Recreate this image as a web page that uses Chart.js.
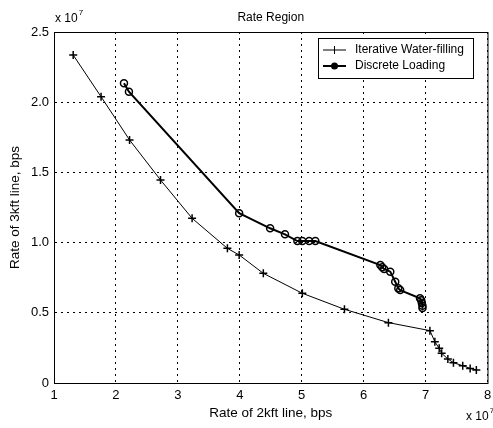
<!DOCTYPE html>
<html>
<head>
<meta charset="utf-8">
<script src="https://cdn.jsdelivr.net/npm/chart.js@4/dist/chart.umd.min.js"></script>
<style>
    body { margin: 0; background: #fff; }
    #wrap { width: 493px; height: 428px; }
</style>
</head>
<body>
<div id="wrap"><canvas id="rateChart" width="493" height="428"></canvas></div>
<script>
// rates in units of 1e7 bps
const iterX = [1.31, 1.76, 2.22, 2.72, 3.23, 3.80, 3.99, 4.38, 5.01, 5.69, 6.40, 7.07, 7.15, 7.22, 7.26, 7.36, 7.45, 7.60, 7.72, 7.82];
const iterY = [2.336, 2.039, 1.731, 1.446, 1.173, 0.959, 0.912, 0.781, 0.639, 0.525, 0.430, 0.373, 0.294, 0.247, 0.212, 0.171, 0.145, 0.123, 0.104, 0.093];

const discX = [2.13, 2.21, 3.99, 4.49, 4.73, 4.93, 5.01, 5.12, 5.22, 6.27, 6.30, 6.33, 6.43, 6.51, 6.56, 6.59, 6.91, 6.93, 6.94, 6.95, 6.95];
const discY = [2.135, 2.075, 1.209, 1.102, 1.059, 1.011, 1.011, 1.011, 1.011, 0.840, 0.825, 0.812, 0.793, 0.721, 0.674, 0.662, 0.603, 0.590, 0.570, 0.550, 0.535];

const xTicks = [1, 2, 3, 4, 5, 6, 7, 8];
const yTicks = [0, 0.5, 1, 1.5, 2, 2.5];
const seriesNames = ['Iterative Water-filling', 'Discrete Loading'];

function toPoints(xs, ys) {
    return xs.map((x, i) => ({x: x, y: ys[i]}));
}

const FONT = '"Liberation Sans", Arial, sans-serif';

// frame, title, exponent labels, axis titles and legend
const decorPlugin = {
    id: 'decor',
    afterDraw(chart) {
        const ctx = chart.ctx;
        const a = chart.chartArea;
        ctx.save();
        ctx.strokeStyle = '#000';
        ctx.lineWidth = 1;
        ctx.strokeRect(a.left + 0.5, a.top + 0.5, a.right - a.left, a.bottom - a.top);

        ctx.fillStyle = '#000';
        ctx.textAlign = 'center';
        ctx.textBaseline = 'middle';
        ctx.font = '12px ' + FONT;
        ctx.fillText('Rate Region', (a.left + a.right) / 2, 18);
        ctx.font = '13.5px ' + FONT;
        ctx.fillText('Rate of 2kft line, bps', (a.left + a.right) / 2, 413);

        ctx.save();
        ctx.translate(15, (a.top + a.bottom) / 2);
        ctx.rotate(-Math.PI / 2);
        ctx.fillText('Rate of 3kft line, bps', 0, 0);
        ctx.restore();

        // x 10^7 labels
        function expLabel(x, y) {
            ctx.textAlign = 'left';
            ctx.font = '12px ' + FONT;
            ctx.fillText('x 10', x, y);
            const w = ctx.measureText('x 10').width;
            ctx.font = '8px ' + FONT;
            ctx.fillText('7', x + w + 1, y - 6);
        }
        expLabel(55, 19);
        expLabel(466, 417);

        // legend box
        const lx = 318, ly = 38, lw = 155, lh = 40;
        ctx.fillStyle = '#fff';
        ctx.fillRect(lx, ly, lw, lh);
        ctx.strokeStyle = '#000';
        ctx.lineWidth = 1;
        ctx.strokeRect(lx + 0.5, ly + 0.5, lw, lh);
        ctx.fillStyle = '#000';
        ctx.font = '12px ' + FONT;
        ctx.textAlign = 'left';
        const rows = [ly + 12, ly + 28];
        // row 1: thin line with plus
        ctx.beginPath();
        ctx.lineWidth = 1;
        ctx.moveTo(lx + 5, rows[0]); ctx.lineTo(lx + 28, rows[0]);
        ctx.moveTo(lx + 16.5, rows[0] - 4); ctx.lineTo(lx + 16.5, rows[0] + 4);
        ctx.stroke();
        ctx.fillText(seriesNames[0], lx + 37, rows[0]);
        // row 2: thick line with circle
        ctx.beginPath();
        ctx.lineWidth = 2;
        ctx.moveTo(lx + 5, rows[1]); ctx.lineTo(lx + 28, rows[1]);
        ctx.stroke();
        ctx.beginPath();
        ctx.arc(lx + 16.5, rows[1], 3.5, 0, Math.PI * 2);
        ctx.fillStyle = '#000';
        ctx.fill();
        ctx.fillText(seriesNames[1], lx + 37, rows[1]);
        ctx.restore();
    }
};

new Chart(document.getElementById('rateChart'), {
    type: 'line',
    data: {
        datasets: [
            {
                label: seriesNames[0],
                data: toPoints(iterX, iterY),
                borderColor: '#000',
                borderWidth: 1,
                pointStyle: 'cross',
                pointRadius: 4,
                pointBorderWidth: 1.5,
                pointBorderColor: '#000',
                tension: 0
            },
            {
                label: seriesNames[1],
                data: toPoints(discX, discY),
                borderColor: '#000',
                borderWidth: 2,
                pointStyle: 'circle',
                pointRadius: 3.5,
                pointBorderWidth: 1.5,
                pointBorderColor: '#000',
                pointBackgroundColor: 'rgba(255,255,255,0)',
                tension: 0
            }
        ]
    },
    options: {
        responsive: false,
        animation: false,
        layout: {padding: {left: 0, top: 32, right: 3, bottom: 0}},
        plugins: {legend: {display: false}, title: {display: false}, tooltip: {enabled: false}},
        scales: {
            x: {
                type: 'linear',
                min: 1, max: 8,
                afterBuildTicks: s => { s.ticks = xTicks.map(v => ({value: v})); },
                afterFit: s => { s.height = 45; s.paddingLeft = 0; s.paddingRight = 0; },
                grid: {color: '#000', lineWidth: 1, drawTicks: false},
                border: {display: true, color: '#000', dash: [2, 4]},
                ticks: {color: '#000', font: {family: FONT, size: 13}, padding: 5, maxRotation: 0}
            },
            y: {
                type: 'linear',
                min: 0, max: 2.5,
                afterBuildTicks: s => { s.ticks = yTicks.map(v => ({value: v})); },
                afterFit: s => { s.width = 54; s.paddingTop = 0; s.paddingBottom = 0; },
                grid: {color: '#000', lineWidth: 1, drawTicks: false},
                border: {display: true, color: '#000', dash: [2, 4]},
                ticks: {color: '#000', font: {family: FONT, size: 13}, padding: 5}
            }
        }
    },
    plugins: [decorPlugin]
});
</script>
</body>
</html>
